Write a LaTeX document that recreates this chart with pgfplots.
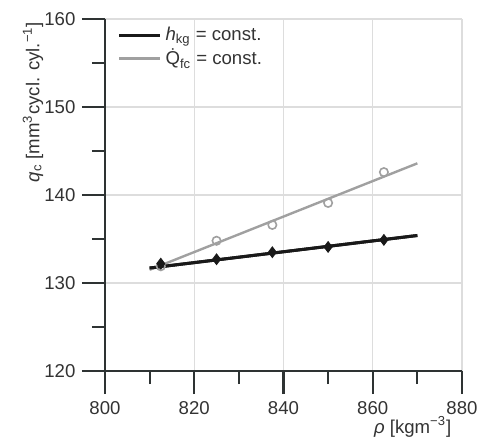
\documentclass[border=0pt]{standalone}
\usepackage{fontspec}
\setmainfont{Liberation Sans}
\usepackage{pgfplots}
\pgfplotsset{compat=1.18}
\definecolor{axisgray}{HTML}{2E3333}
\definecolor{gridgray}{HTML}{DDDDDD}
\definecolor{lightline}{HTML}{A0A0A0}
\definecolor{labelgray}{HTML}{333333}
\newcommand{\fs}{\fontsize{9.3}{11}\selectfont}
\begin{document}
\fs
\begin{tikzpicture}
\begin{axis}[
 at={(0,0)}, anchor=south west,
 scale only axis, width=178.5pt, height=176pt,
 xmin=800, xmax=880, ymin=120, ymax=160,
 axis lines=left, axis line style={-, line width=1.1pt, color=axisgray},
 xtick={800,820,...,880}, ytick={120,130,...,160},
 minor x tick num=1, minor y tick num=1,
 tick align=outside, major tick length=11.5pt, minor tick length=6.5pt,
 tick style={line width=1.1pt, color=axisgray},
 grid=major, major grid style={line width=0.6pt, color=gridgray},
 /pgf/number format/assume math mode=true,
 /pgf/number format/1000 sep={},
 tick label style={font=\fs, color=labelgray},
 xticklabel shift=0.5pt,
 xlabel={\textit{ρ} [kgm\textsuperscript{−3}]},
 xlabel style={font=\fs, color=labelgray, at={(axis description cs:0.971,0)}, anchor=north east, inner sep=0pt, yshift=-22.5pt},
 ylabel={\textit{q}\textsubscript{c} [mm\textsuperscript{3}cycl. cyl.\textsuperscript{−1}]},
 ylabel style={font=\fs, color=labelgray, at={(axis description cs:-0.2017,0.764)}, anchor=center, inner sep=0pt},
 legend style={at={(axis description cs:0.034,0.99)}, anchor=north west, draw=none, fill=none, font=\fs, text=labelgray, inner sep=0pt, row sep=-1pt},
 legend cell align=left,
 legend image code/.code={\draw[#1, mark=none] (0pt,0pt) -- (20.5pt,0pt);},
]
\addplot[only marks, mark=o, mark size=2.1pt, lightline, line width=0.8pt, forget plot]
 coordinates {(812.5,131.9) (825,134.8) (837.5,136.6) (850,139.1) (862.5,142.6)};
\addplot[black!90, line width=1.5pt, mark=none]
 coordinates {(810,131.7) (870,135.4)};
\addlegendentry{\textit{h}\textsubscript{kg} = const.}
\addplot[lightline, line width=1.2pt, mark=none]
 coordinates {(810,131.5) (870,143.6)};
\addlegendentry{\.{Q}\textsubscript{fc} = const.}
\addplot[black!90, line width=1.5pt, mark=none, forget plot]
 coordinates {(810,131.7) (870,135.4)};
\addplot[only marks, mark=diamond*, mark size=2.7pt, black!90, forget plot]
 coordinates {(812.5,132.2) (825,132.7) (837.5,133.5) (850,134.1) (862.5,134.9)};
\end{axis}
\pgfresetboundingbox
\useasboundingbox (-52.5pt,-34pt) rectangle (188pt,185.5pt);
\end{tikzpicture}
\end{document}
